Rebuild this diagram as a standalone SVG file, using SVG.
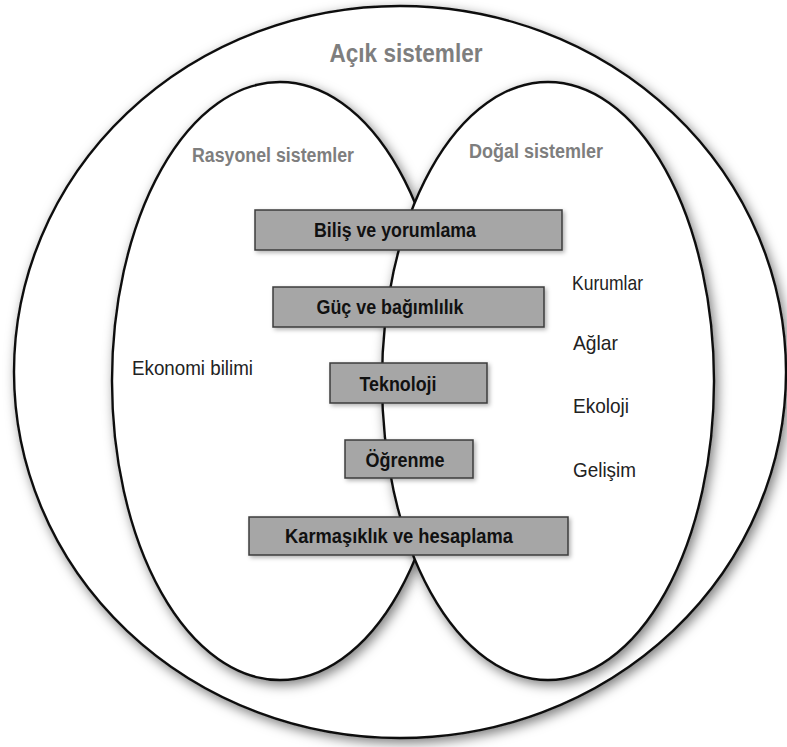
<svg xmlns="http://www.w3.org/2000/svg" width="787" height="747" viewBox="0 0 787 747">
<defs>
<filter id="sh" x="-20%" y="-20%" width="140%" height="140%">
<feDropShadow dx="3" dy="4" stdDeviation="6" flood-color="#000" flood-opacity="0.5"/>
</filter>
<filter id="bsh" x="-10%" y="-30%" width="120%" height="160%">
<feDropShadow dx="2" dy="2" stdDeviation="2" flood-color="#000" flood-opacity="0.3"/>
</filter>
</defs>
<style>
.ell{fill:#fff;stroke:#111;stroke-width:2.4}
.box{fill:#a6a6a6;stroke:#3c3c3c;stroke-width:1.5}
.bt{font-family:"Liberation Sans",Arial,sans-serif;font-weight:bold;font-size:19.5px;fill:#111;text-anchor:middle}
.gt{font-family:"Liberation Sans",Arial,sans-serif;font-weight:bold;fill:#7e7e7e;text-anchor:middle}
.lt{font-family:"Liberation Sans",Arial,sans-serif;font-size:21px;fill:#222}
</style>
<rect width="787" height="747" fill="#fff"/>
<g id="acik">
<ellipse class="ell" cx="400" cy="372" rx="386" ry="366" filter="url(#sh)"/>
<text class="gt" x="406" y="62" font-size="25" textLength="153" lengthAdjust="spacingAndGlyphs">Açık sistemler</text>
</g>
<g id="rasyonel">
<ellipse class="ell" cx="280" cy="381" rx="168" ry="299" filter="url(#sh)"/>
<text class="gt" x="273" y="162" font-size="19.5" textLength="162" lengthAdjust="spacingAndGlyphs">Rasyonel sistemler</text>
<text class="lt" x="132" y="375" textLength="121" lengthAdjust="spacingAndGlyphs">Ekonomi bilimi</text>
</g>
<g id="dogal">
<ellipse class="ell" cx="548" cy="381" rx="166" ry="299" filter="url(#sh)"/>
<text class="gt" x="536" y="158" font-size="19.5" textLength="134" lengthAdjust="spacingAndGlyphs">Doğal sistemler</text>
<text class="lt" x="572" y="290" textLength="71" lengthAdjust="spacingAndGlyphs">Kurumlar</text>
<text class="lt" x="573" y="350" textLength="45" lengthAdjust="spacingAndGlyphs">Ağlar</text>
<text class="lt" x="573" y="413" textLength="56" lengthAdjust="spacingAndGlyphs">Ekoloji</text>
<text class="lt" x="573" y="477" textLength="63" lengthAdjust="spacingAndGlyphs">Gelişim</text>
</g>
<g id="connectors"></g>
<g id="b1">
<rect class="box" x="255" y="210" width="307" height="40" filter="url(#bsh)"/>
<text class="bt" x="395" y="237" textLength="162" lengthAdjust="spacingAndGlyphs">Biliş ve yorumlama</text>
</g>
<g id="b2">
<rect class="box" x="273" y="287" width="271" height="40" filter="url(#bsh)"/>
<text class="bt" x="390" y="314" textLength="147" lengthAdjust="spacingAndGlyphs">Güç ve bağımlılık</text>
</g>
<g id="b3">
<rect class="box" x="330" y="363" width="157" height="40" filter="url(#bsh)"/>
<text class="bt" x="398" y="391" textLength="77" lengthAdjust="spacingAndGlyphs">Teknoloji</text>
</g>
<g id="b4">
<rect class="box" x="345" y="440" width="128" height="38" filter="url(#bsh)"/>
<text class="bt" x="405" y="467" textLength="79" lengthAdjust="spacingAndGlyphs">Öğrenme</text>
</g>
<g id="b5">
<rect class="box" x="249" y="517" width="319" height="38" filter="url(#bsh)"/>
<text class="bt" x="399" y="543" textLength="228" lengthAdjust="spacingAndGlyphs">Karmaşıklık ve hesaplama</text>
</g>
</svg>
